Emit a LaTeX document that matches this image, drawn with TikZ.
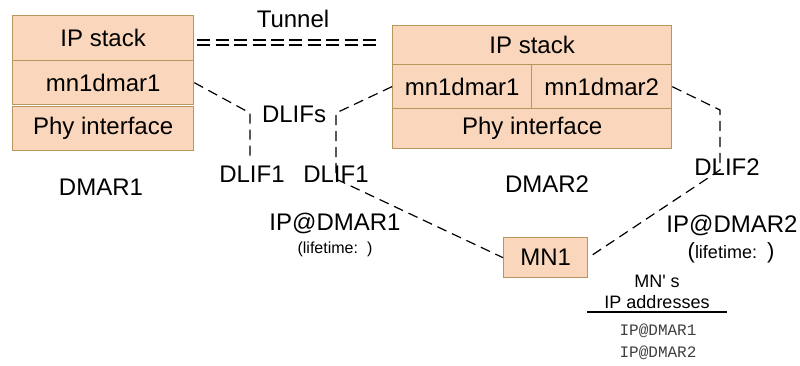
\documentclass[tikz,border=0pt]{standalone}
\usepackage{fontspec}
\setmainfont{Liberation Sans}
\newfontfamily\monofnt{Liberation Mono}
\definecolor{peach}{HTML}{FAD7BC}
\definecolor{brd}{HTML}{B8965E}
\definecolor{monogray}{HTML}{404040}
\begin{document}
\begin{tikzpicture}[x=1pt,y=-1pt,
  cell/.style={draw=brd, fill=peach, line width=1.3pt, inner sep=0pt, anchor=north west,
    font=\fontsize{24}{26}\selectfont},
  lbl/.style={inner sep=0pt, anchor=base, font=\fontsize{24}{26}\selectfont},
  small/.style={inner sep=0pt, anchor=base, font=\fontsize{18}{20}\selectfont},
  monolbl/.style={inner sep=0pt, anchor=base, text=monogray, font=\monofnt\fontsize{16}{18}\selectfont},
  conn/.style={line width=1.2pt, dash pattern=on 10pt off 6pt},
  tunnelline/.style={line width=1.2pt, dash pattern=on 13pt off 5.4pt}]
\useasboundingbox (0,0) rectangle (800,365);

% DMAR1
\node[cell, minimum width=181pt, minimum height=45pt] (ip1) at (12,15) {IP stack};
\node[cell, minimum width=181pt, minimum height=44pt] (mn1) at (12,60) {mn1dmar1};
\node[cell, minimum width=181pt, minimum height=44pt] (phy1) at (12,106) {Phy interface};

% DMAR2
\node[cell, minimum width=279pt, minimum height=39pt] (ip2) at (392,25) {IP stack};
\node[cell, minimum width=139pt, minimum height=44pt] (m21) at (392,64) {mn1dmar1};
\node[cell, minimum width=140pt, minimum height=44pt] (m22) at (531,64) {mn1dmar2};
\node[cell, minimum width=279pt, minimum height=40pt] (phy2) at (392,108) {Phy interface};

% MN1
\node[cell, minimum width=84pt, minimum height=40pt] (mnode) at (503,237) {MN1};

% tunnel
\coordinate (ta) at (0,40);
\coordinate (tb) at (0,45);
\coordinate (tend) at (380,0);
\draw[tunnelline] ([xshift=3pt]ip1.east |- ta) -- (tend |- ta);
\draw[tunnelline] ([xshift=3pt]ip1.east |- tb) -- (tend |- tb);

% connectors
\coordinate (c1) at (250,157);
\draw[conn] (mn1.east) -- (250,113) -- (c1);
\draw[conn] (m21.west) -- (336,113) -- (336,179) -- (mnode.west);
\draw[conn] (m22.east) -- (720,110) -- (720,170) -- (mnode.east);

% labels
\node[lbl] (tun) at (293,27) {Tunnel};
\node[lbl] (dlifs) at (294,122) {DLIFs};
\node[lbl] (dlifa) at (252,182) {DLIF1};
\node[lbl] (dlifb) at (336,182) {DLIF1};
\node[lbl] (dlifc) at (727,175) {DLIF2};
\node[lbl] (d1) at (101,195) {DMAR1};
\node[lbl] (d2) at (547,192) {DMAR2};
\node[lbl] (ipd1) at (335,230) {IP@DMAR1};
\node[inner sep=0pt, anchor=base, font=\fontsize{16}{18}\selectfont] (lt1) at (335,253) {(lifetime:\hspace{9pt})};
\node[lbl] (ipd2) at (732,232) {IP@DMAR2};
\node[inner sep=0pt, anchor=base, font=\fontsize{18}{20}\selectfont] (lt2) at (731,258)
  {{\fontsize{22}{24}\selectfont(}lifetime:\hspace{10pt}{\fontsize{22}{24}\selectfont)}};
\node[small] (mns) at (657,287) {MN\textquotesingle\ s};
\node[small] (ipa) at (657,308) {IP addresses};
\coordinate (ula) at (587,312);
\coordinate (ulb) at (727,312);
\draw[line width=1.2pt] (ula) -- (ulb);
\node[monolbl] (ma) at (658,335) {IP@DMAR1};
\node[monolbl] (mb) at (658,357) {IP@DMAR2};
\end{tikzpicture}
\end{document}
